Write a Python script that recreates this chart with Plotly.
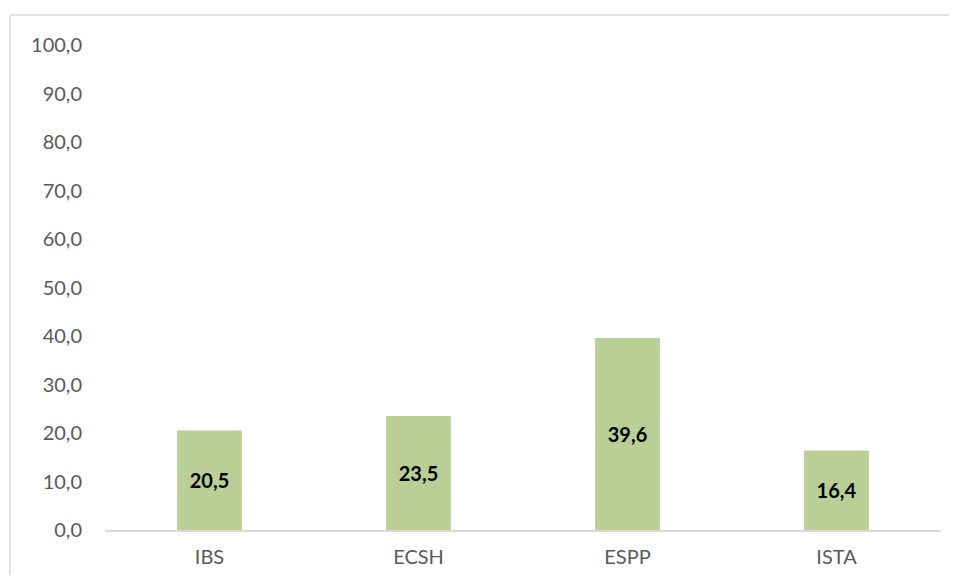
import plotly.graph_objects as go

categories = ["IBS", "ECSH", "ESPP", "ISTA"]
values = [20.5, 23.5, 39.6, 16.4]
y_ticks = [0, 10, 20, 30, 40, 50, 60, 70, 80, 90, 100]

# page body has an 8px margin, so the figure is drawn at (8, 8);
# keep the figure small enough that the page does not scroll
OFF = 8
W, H = 957 - 2 * OFF, 583 - 2 * OFF
L, T = 105 - OFF, 45 - OFF
R = W - L - 836
B = H - T - 485
pw, ph = W - L - R, H - T - B

fig = go.Figure(go.Bar(
    x=categories, y=values,
    marker=dict(color="#b9cf96", line=dict(width=0)),
    width=0.31,
    texttemplate="<b>%{y:.1f}</b>",
    textposition="inside",
    insidetextanchor="middle",
    textangle=0,
    textfont=dict(family="Lato, sans-serif", size=20, color="#000000"),
))

def px_x(p):
    return (p - OFF - L) / pw

def px_y(p):
    return (H - B - (p - OFF)) / ph

border = dict(color="#d9d9d9", width=1.5)
fig.update_layout(
    width=W, height=H,
    margin=dict(l=L, r=R, t=T, b=B),
    paper_bgcolor="white", plot_bgcolor="white",
    separators=", ",
    showlegend=False,
    font=dict(family="Lato, sans-serif", color="#595959", size=20),
    xaxis=dict(showgrid=False, showline=True, linecolor="#d9d9d9", linewidth=1.5,
               ticks="", tickfont=dict(size=20, color="#595959"), ticklabelstandoff=8),
    yaxis=dict(range=[0, 100], tickvals=y_ticks, tickformat=".1f", showgrid=False,
               showline=False, zeroline=False, ticks="",
               tickfont=dict(size=20, color="#595959"), ticklabelstandoff=22),
    shapes=[
        dict(type="line", xref="paper", yref="paper",
             x0=px_x(10), x1=px_x(970), y0=px_y(15), y1=px_y(15), line=border, layer="below"),
        dict(type="line", xref="paper", yref="paper",
             x0=px_x(10), x1=px_x(10), y0=px_y(15), y1=px_y(600), line=border, layer="below"),
    ],
)

fig.write_html("out.html")
